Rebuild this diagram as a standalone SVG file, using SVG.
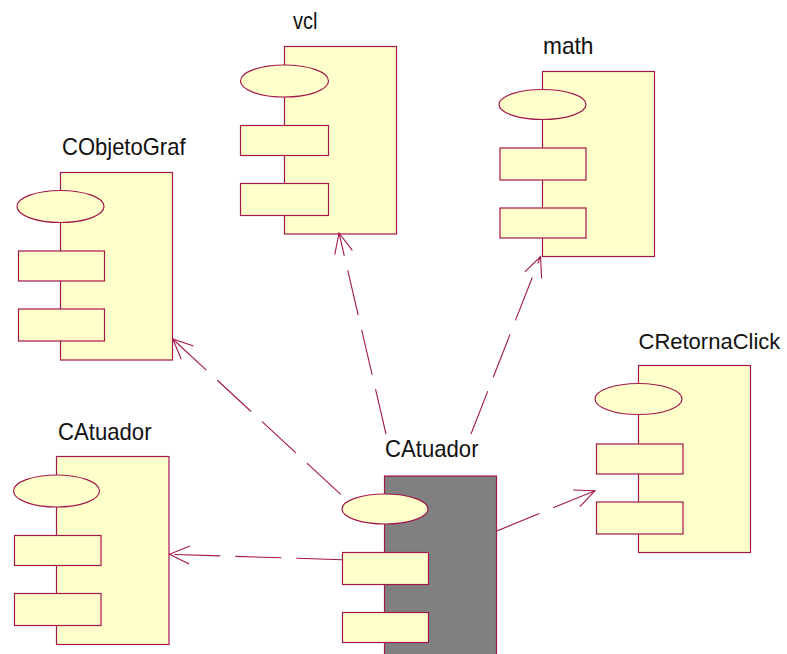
<svg xmlns="http://www.w3.org/2000/svg" width="787" height="654" viewBox="0 0 787 654">
  <style>
    .body { fill: #FFFFCC; stroke: #A3174B; stroke-width: 1.2; }
    .body.active { fill: #808080; }
    .part { fill: #FFFFCC; stroke: #A3174B; stroke-width: 1.2; }
    .label { font-family: "Liberation Sans", Arial, sans-serif; font-size: 24px; fill: #111; }
    .label.wide { font-size: 22px; }
    .dep { fill: none; stroke: #A3174B; stroke-width: 1.1; stroke-dasharray: 46 15; marker-end: url(#open); }
  </style>
  <defs>
    <marker id="open" markerUnits="userSpaceOnUse" markerWidth="30" markerHeight="30" refX="0" refY="0" viewBox="-25 -15 30 30" orient="auto" overflow="visible">
      <path d="M-20,-9 L0,0 L-20,9" fill="none" stroke="#A3174B" stroke-width="1.1"/>
    </marker>
  </defs>

  <rect width="787" height="654" fill="#FFFFFF"/>

  <!-- component: vcl -->
  <g id="vcl">
    <text class="label" x="293" y="29" textLength="24.5" lengthAdjust="spacingAndGlyphs">vcl</text>
    <rect class="body" x="284.5" y="46.5" width="112" height="187.5"/>
    <ellipse class="part" cx="284.5" cy="81" rx="44" ry="16"/>
    <rect class="part" x="240.5" y="125.5" width="88" height="30"/>
    <rect class="part" x="240.5" y="183.5" width="88" height="32"/>
  </g>

  <!-- component: math -->
  <g id="math">
    <text class="label" x="543" y="54" textLength="50.5" lengthAdjust="spacingAndGlyphs">math</text>
    <rect class="body" x="542.5" y="71.5" width="112" height="185"/>
    <ellipse class="part" cx="542.5" cy="104.5" rx="43.5" ry="15"/>
    <rect class="part" x="500" y="148" width="86" height="32"/>
    <rect class="part" x="500" y="208" width="86" height="30"/>
  </g>

  <!-- component: CObjetoGraf -->
  <g id="CObjetoGraf">
    <text class="label" x="62" y="154.5" textLength="123.5" lengthAdjust="spacingAndGlyphs">CObjetoGraf</text>
    <rect class="body" x="60.5" y="172.5" width="112" height="187.5"/>
    <ellipse class="part" cx="60.5" cy="206.5" rx="43.5" ry="16"/>
    <rect class="part" x="18.5" y="251" width="86" height="30"/>
    <rect class="part" x="18.5" y="309" width="86" height="32"/>
  </g>

  <!-- component: CRetornaClick -->
  <g id="CRetornaClick">
    <text class="label wide" x="638.5" y="348.5">CRetornaClick</text>
    <rect class="body" x="638.5" y="365.5" width="112" height="187"/>
    <ellipse class="part" cx="638.5" cy="399" rx="43.5" ry="15.5"/>
    <rect class="part" x="596.5" y="444" width="86.5" height="30"/>
    <rect class="part" x="596.5" y="502" width="86.5" height="32"/>
  </g>

  <!-- component: CAtuador (left) -->
  <g id="CAtuador-ref">
    <text class="label" x="58" y="440" textLength="93.5" lengthAdjust="spacingAndGlyphs">CAtuador</text>
    <rect class="body" x="56.5" y="456.5" width="112.5" height="188"/>
    <ellipse class="part" cx="56.5" cy="491" rx="43" ry="16"/>
    <rect class="part" x="14.5" y="535.5" width="86.5" height="30"/>
    <rect class="part" x="14.5" y="593.5" width="86.5" height="32"/>
  </g>

  <!-- component: CAtuador (centre, highlighted) -->
  <g id="CAtuador">
    <text class="label" x="385" y="457" textLength="93.5" lengthAdjust="spacingAndGlyphs">CAtuador</text>
    <rect class="body active" x="384.5" y="476" width="112" height="190"/>
    <ellipse class="part" cx="385" cy="509" rx="43" ry="15"/>
    <rect class="part" x="342.5" y="552.5" width="86" height="32"/>
    <rect class="part" x="342.5" y="612.5" width="86" height="30"/>
  </g>

  <!-- dependencies -->
  <g id="connectors">
    <path class="dep" d="M340.7,494.3 L172.7,339"/>
    <path class="dep" d="M386,434 L339,233"/>
    <path class="dep" d="M471,434 L540.5,256.5"/>
    <path class="dep" d="M496.7,531 L595,490.7"/>
    <path class="dep" d="M342.3,559.7 L169.5,554.3"/>
  </g>
</svg>
